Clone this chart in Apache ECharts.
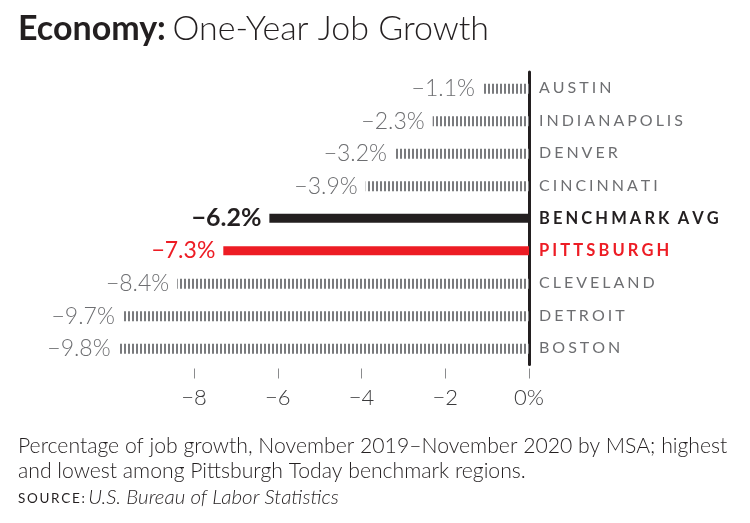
<!DOCTYPE html>
<html><head><meta charset="utf-8">
<script src="https://cdn.jsdelivr.net/npm/echarts@6/dist/echarts.min.js"></script>
<style>html,body{margin:0;padding:0;background:#fff}#c{width:750px;height:523px}</style>
</head><body><div id="c"></div>
<script>
const categories = ['AUSTIN','INDIANAPOLIS','DENVER','CINCINNATI','BENCHMARK AVG','PITTSBURGH','CLEVELAND','DETROIT','BOSTON'];
const values = [-1.1,-2.3,-3.2,-3.9,-6.2,-7.3,-8.4,-9.7,-9.8];
const highlight = {'BENCHMARK AVG':'#231f20','PITTSBURGH':'#ed1c24'};
const tickValues = [-8,-6,-4,-2,0];

const FONT = 'Lato';
const GRAY = '#6d6e71';
const mctx = document.createElement('canvas').getContext('2d');
// emulate letter spacing with repeated hair spaces
function spaced(s, font, ls){
  mctx.font = font;
  const hw = mctx.measureText('\u200A').width || 1;
  const n = Math.max(1, Math.round(ls / hw));
  const sep = '\u200A'.repeat(n);
  return s.split(' ').map(w => w.split('').join(sep)).join(sep + '\u2009' + sep);
}
function fmt(v){ return (v<0?'\u2212':'') + Math.abs(v).toFixed(1) + '%'; }

const pc = document.createElement('canvas');
pc.width = 4; pc.height = 2;
const pctx = pc.getContext('2d');
pctx.fillStyle = '#7a7b7e';
pctx.fillRect(0,0,2,2);

const stripedData = values.map((v,i)=> highlight[categories[i]] ? '-' : v);
const solidData = values.map((v,i)=> highlight[categories[i]] ? {value:v, itemStyle:{color:highlight[categories[i]]}, label:{color:highlight[categories[i]], fontWeight: categories[i]==='BENCHMARK AVG'?'bold':'normal', fontSize: categories[i]==='BENCHMARK AVG'?25:23}} : '-');

const chart = echarts.init(document.getElementById('c'), null, {renderer:'canvas'});
chart.setOption({
  animation:false,
  graphic:[
    {type:'text', left:18, top:12, style:{text:'{b|Economy:}  {l|One-Year Job Growth}', rich:{
      b:{fontFamily:FONT, fontWeight:'bold', fontSize:34, fill:'#231f20'},
      l:{fontFamily:FONT, fontWeight:300, fontSize:34, fill:'#231f20'}}}},
    {type:'text', left:18, top:433, style:{text:'Percentage of job growth, November 2019\u2013November 2020 by MSA; highest\nand lowest among Pittsburgh Today benchmark regions.', fontFamily:FONT, fontWeight:300, fontSize:21.2, lineHeight:25.5, fill:'#231f20'}},
    {type:'text', left:18, top:487, style:{text:'{s|' + spaced('SOURCE:', '13.5px Lato', 1.5) + '} {i|U.S. Bureau of Labor Statistics}', rich:{
      s:{fontFamily:FONT, fontSize:13.5, fill:'#231f20', padding:[3,0,0,0]},
      i:{fontFamily:FONT, fontStyle:'italic', fontWeight:300, fontSize:20.5, fill:'#231f20'}}}}
  ],
  grid:{left:110.25, right:221, top:72, height:292.5, containLabel:false},
  xAxis:{type:'value', min:-10, max:0, interval:2, offset:4,
    axisLine:{show:false}, splitLine:{show:false},
    axisTick:{show:true, length:10, customValues:tickValues, lineStyle:{color:'#8a8b8d', width:1}},
    axisLabel:{customValues:tickValues, margin:18, fontFamily:FONT, fontWeight:300, fontSize:22, color:'#3a3a3c',
      formatter:v=> v===0 ? '0%' : '\u2212'+Math.abs(v)}},
  yAxis:{type:'category', data:categories, inverse:true, position:'right',
    axisLine:{show:true, lineStyle:{color:'#231f20', width:3}},
    axisTick:{show:false},
    axisLabel:{margin:10, fontFamily:FONT, fontSize:16, color:GRAY,
      formatter:(v)=>{ if(v==='BENCHMARK AVG') return '{k|'+spaced(v,'bold 16.5px Lato',3.5)+'}'; if(v==='PITTSBURGH') return '{r|'+spaced(v,'bold 16.5px Lato',3.5)+'}'; return spaced(v,'16px Lato',3); },
      rich:{k:{fontFamily:FONT, fontSize:16.5, fontWeight:'bold', color:'#231f20'}, r:{fontFamily:FONT, fontSize:16.5, fontWeight:'bold', color:'#ed1c24'}}}},
  series:[
    {type:'bar', data:stripedData, barWidth:10, barGap:'-100%',
      itemStyle:{color:{image:pc, repeat:'repeat'}},
      label:{show:true, position:'left', distance:8, formatter:p=>fmt(p.value), fontFamily:FONT, fontWeight:300, fontSize:23, color:GRAY}},
    {type:'bar', data:solidData, barWidth:9, barGap:'-100%',
      label:{show:true, position:'left', distance:8, formatter:p=>fmt(p.value), fontFamily:FONT, fontSize:23}}
  ]
});
</script></body></html>
